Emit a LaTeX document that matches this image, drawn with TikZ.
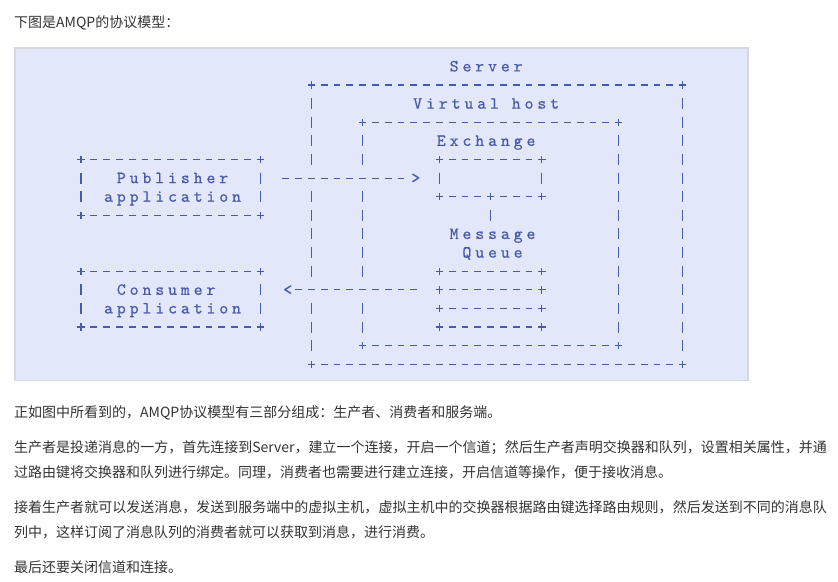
\documentclass[tikz,border=0pt]{standalone}
\usepackage{fontspec}
\setmainfont{Noto Sans CJK SC}
\newfontfamily\asciifont{lmmono10-regular.otf}[LetterSpace=22.8, FakeBold=0.6]
\XeTeXlinebreaklocale "zh"
\XeTeXlinebreakskip=0pt plus 1pt

\definecolor{panel}{HTML}{E3E7FA}
\definecolor{panelrule}{HTML}{D6D8E0}
\definecolor{ink}{HTML}{4A5AAA}
\definecolor{bodytext}{HTML}{333333}

\newcommand\colw{12.8pt}
\newcommand\rowh{18.62pt}
\newcommand\lsp{\kern3.9pt}
\newcommand\asctop{\rule{0pt}{14pt}}
\newcommand\ascbot{\rule[-4pt]{0pt}{4pt}}
\newcommand\ptop{\rule{0pt}{13pt}}

\tikzset{
  ascii/.style={draw=ink, line width=1.2pt},
  hbars/.style={ascii, dash pattern=on 6.8pt off 6pt, shorten <=9.4pt, shorten >=9.4pt},
  vbars/.style={ascii, dash pattern=on 11pt off 7.62pt, shorten <=13.12pt, shorten >=13.12pt},
  plus/.pic={\draw[ascii] (-3.7pt,0) -- (3.7pt,0) (0,-3.7pt) -- (0,3.7pt);},
  frame/.style 2 args={minimum width=#1*\colw, minimum height=#2*\rowh, inner sep=0pt, outer sep=0pt},
  asciitext/.style={font=\asciifont\fontsize{17pt}{18.62pt}\selectfont, text=ink, inner sep=0pt, align=center},
  oneline/.style={asciitext, text height=10pt, text depth=0pt},
  para/.style={anchor=north west, inner sep=0pt, text=bodytext, font=\fontsize{14pt}{25pt}\selectfont, text width=812.7pt, align=justify}
}

% top, bottom and right side of an ascii box, with its corners
\newcommand\asciiframe[1]{%
  \draw[hbars] (#1.north west) -- (#1.north east);
  \draw[hbars] (#1.south west) -- (#1.south east);
  \draw[vbars] (#1.north east) -- (#1.south east);
  \foreach \corner in {north west,north east,south west,south east}
    \pic at (#1.\corner) {plus};
}

\begin{document}
\begin{tikzpicture}[x=1pt, y=-1pt]
  \useasboundingbox (0,0) rectangle (838,581);

  \node[para] (head) at (14,14.3) {\ptop 下图是AMQP的协议模型：};

  \fill[panel] (15,48) rectangle (748,380.5);
  \draw[panelrule, line width=1.5pt] (15,48) rectangle (748,380.5);

  % the ascii diagram, one unit = one character cell
  \begin{scope}[shift={(81,66.4)}, x=\colw, y=-\rowh]
    \node[frame={29}{15}] (srv) at (32.5,8.5) {};
    \node[frame={20}{12}] (vhost) at (32,9) {};
    \node[frame={8}{2}] (exch) at (32,6) {};
    \foreach \r [count=\i] in {11,...,14}
      \node[frame={8}{0}] (q\i) at (32,\r) {};

    \node[frame={14}{3}, asciitext] (pub) at (7,6.5) {\asctop\lsp Publisher\\\lsp application\ascbot};
    \node[frame={14}{3}, asciitext] (con) at (7,12.5) {\asctop\lsp Consumer\kern\colw\\\lsp application\ascbot};

    \node[oneline] (srvname) at (31.5,0) {\lsp Server};
    \node[oneline] (vhname) at (31.5,2) {\lsp Virtual host};
    \node[oneline] (exname) at (31.5,4) {\lsp Exchange};
    \node[asciitext] (mq) at (32,9.5) {\asctop\lsp Message\\\lsp Queue\ascbot};

    \node[oneline] (gt) at (26,6) {\lsp>};
    \node[oneline] (lt) at (16,12) {\lsp<};

    \foreach \frm in {srv,vhost,exch,pub,con}
      \asciiframe{\frm};
    \foreach \frm in {pub,con,exch}
      \draw[vbars] (\frm.north west) -- (\frm.south west);
    \foreach \frm in {srv,vhost} {
      \draw[vbars] (\frm.north west) -- (\frm.west |- gt.center);
      \draw[vbars] (\frm.west |- gt.center) -- (\frm.west |- lt.center);
      \draw[vbars] (\frm.west |- lt.center) -- (\frm.south west);
    }
    \pic at (exch.south) {plus};
    \draw[vbars] (exch.south) -- ++(0,2);

    \foreach \q in {q1,q2,q3,q4} {
      \draw[hbars] (\q.west) -- (\q.east);
      \pic at (\q.west) {plus};
      \pic at (\q.east) {plus};
    }

    % publish and consume
    \draw[hbars, shorten <=22.2pt] (pub.east |- gt.center) -- (gt.center);
    \draw[hbars, shorten <=22.2pt] (q2.west) -- (lt.center);
  \end{scope}

  \node[para] (p1) at (14,404) {\ptop 正如图中所看到的，AMQP协议模型有三部分组成：生产者、消费者和服务端。};
  \node[para] (p2) at (14,439.6) {\ptop 生产者是投递消息的一方，首先连接到Server，建立一个连接，开启一个信道；然后生产者声明交换器和队列，设置相关属性，并通\linebreak 过路由键将交换器和队列进行绑定。同理，消费者也需要进行建立连接，开启信道等操作，便于接收消息。};
  \node[para] (p3) at (14,499.6) {\ptop 接着生产者就可以发送消息，发送到服务端中的虚拟主机，虚拟主机中的交换器根据路由键选择路由规则，然后发送到不同的消息队\linebreak 列中，这样订阅了消息队列的消费者就可以获取到消息，进行消费。};
  \node[para] (p4) at (14,559.6) {\ptop 最后还要关闭信道和连接。};
\end{tikzpicture}
\end{document}
